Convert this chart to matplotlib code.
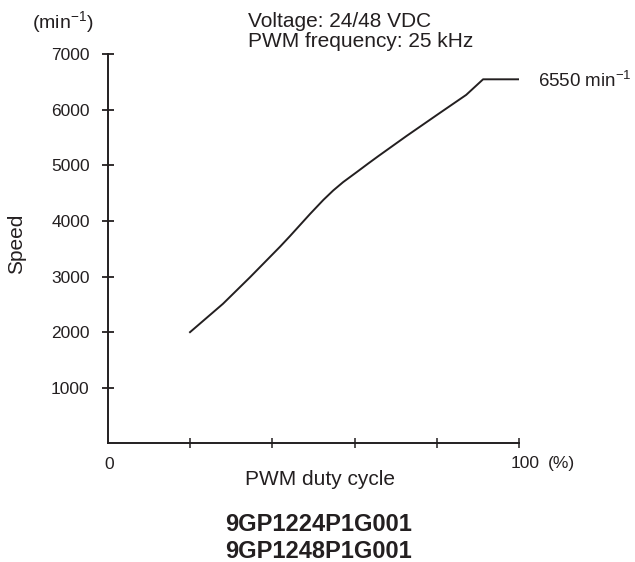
import matplotlib
matplotlib.use("Agg")
import matplotlib.pyplot as plt

# Speed vs PWM duty cycle
duty = [20, 28, 34.6, 41.9, 44.3, 49.2, 52.4, 54.8, 57.2, 60.5, 63.3, 65.7, 72.6, 80.6, 87.1, 91.2, 100]
speed = [2000, 2510, 2990, 3540, 3730, 4130, 4380, 4550, 4700, 4880, 5035, 5165, 5530, 5940, 6270, 6550, 6550]

y_ticks = [1000, 2000, 3000, 4000, 5000, 6000, 7000]
x_ticks = [20, 40, 60, 80, 100]
models = ["9GP1224P1G001", "9GP1248P1G001"]

INK = "#231f20"
# no narrow face installed, so the condensed labels use Liberation Sans a bit smaller
NARROW = ["Liberation Sans Narrow", "Liberation Sans", "DejaVu Sans"]
SANS = ["Liberation Sans", "DejaVu Sans"]
NARROW_SIZE = 12.5

plt.rcParams["mathtext.default"] = "regular"
plt.rcParams["font.family"] = SANS

W, H = 635, 562


def fx(x):
    return x / W


def fy(y):
    return 1 - y / H


fig = plt.figure(figsize=(W / 100, H / 100), dpi=100)
ax = fig.add_axes([fx(107.7), fy(443.3), (519.3 - 107.7) / W, (443.3 - 54.3) / H])

ax.plot(duty, speed, color=INK, linewidth=1.4, solid_joinstyle="round")

ax.set_xlim(0, 100)
ax.set_ylim(0, 7000)
for side in ["top", "right"]:
    ax.spines[side].set_visible(False)
for side in ["left", "bottom"]:
    ax.spines[side].set_linewidth(1.4)
    ax.spines[side].set_color(INK)

ax.set_yticks(y_ticks)
ax.set_yticklabels([str(v) for v in y_ticks], fontfamily=NARROW, fontsize=NARROW_SIZE, color=INK)
ax.tick_params(axis="y", direction="inout", length=9, width=1.3, color=INK, pad=8.5)

ax.set_xticks(x_ticks)
ax.set_xticklabels([""] * len(x_ticks))
ax.tick_params(axis="x", direction="inout", length=7, width=1.1, color=INK)

# x axis end labels
fig.text(fx(109), fy(469), "0", ha="center", va="baseline", fontfamily=NARROW,
         fontsize=NARROW_SIZE, color=INK)
fig.text(fx(511), fy(468.3), "100", ha="left", va="baseline", fontfamily=NARROW,
         fontsize=NARROW_SIZE, color=INK)
fig.text(fx(548), fy(468.3), "(%)", ha="left", va="baseline", fontfamily=NARROW,
         fontsize=NARROW_SIZE, color=INK)

fig.text(fx(320), fy(485), "PWM duty cycle", ha="center", va="baseline", fontsize=15, color=INK)
fig.text(fx(17), fy(244), "Speed", rotation=90, ha="center", va="center", fontsize=15, color=INK)
fig.text(fx(31.7), fy(28.3), "(min$^{-1}$)", ha="left", va="baseline", fontsize=14, color=INK)

fig.text(fx(248.3), fy(26.7), "Voltage: 24/48 VDC", ha="left", va="baseline", fontsize=15, color=INK)
fig.text(fx(248.3), fy(47), "PWM frequency: 25 kHz", ha="left", va="baseline", fontsize=15, color=INK)

fig.text(fx(538.3), fy(87.3), "6550 min$^{-1}$", ha="left", va="baseline",
         fontfamily=NARROW, fontsize=13.5, color=INK)

for i, name in enumerate(models):
    fig.text(fx(319), fy(531 + 27 * i), name, ha="center", va="baseline",
             fontsize=17, fontweight="bold", color=INK)

fig.savefig("out.png", dpi=100)
plt.close(fig)
